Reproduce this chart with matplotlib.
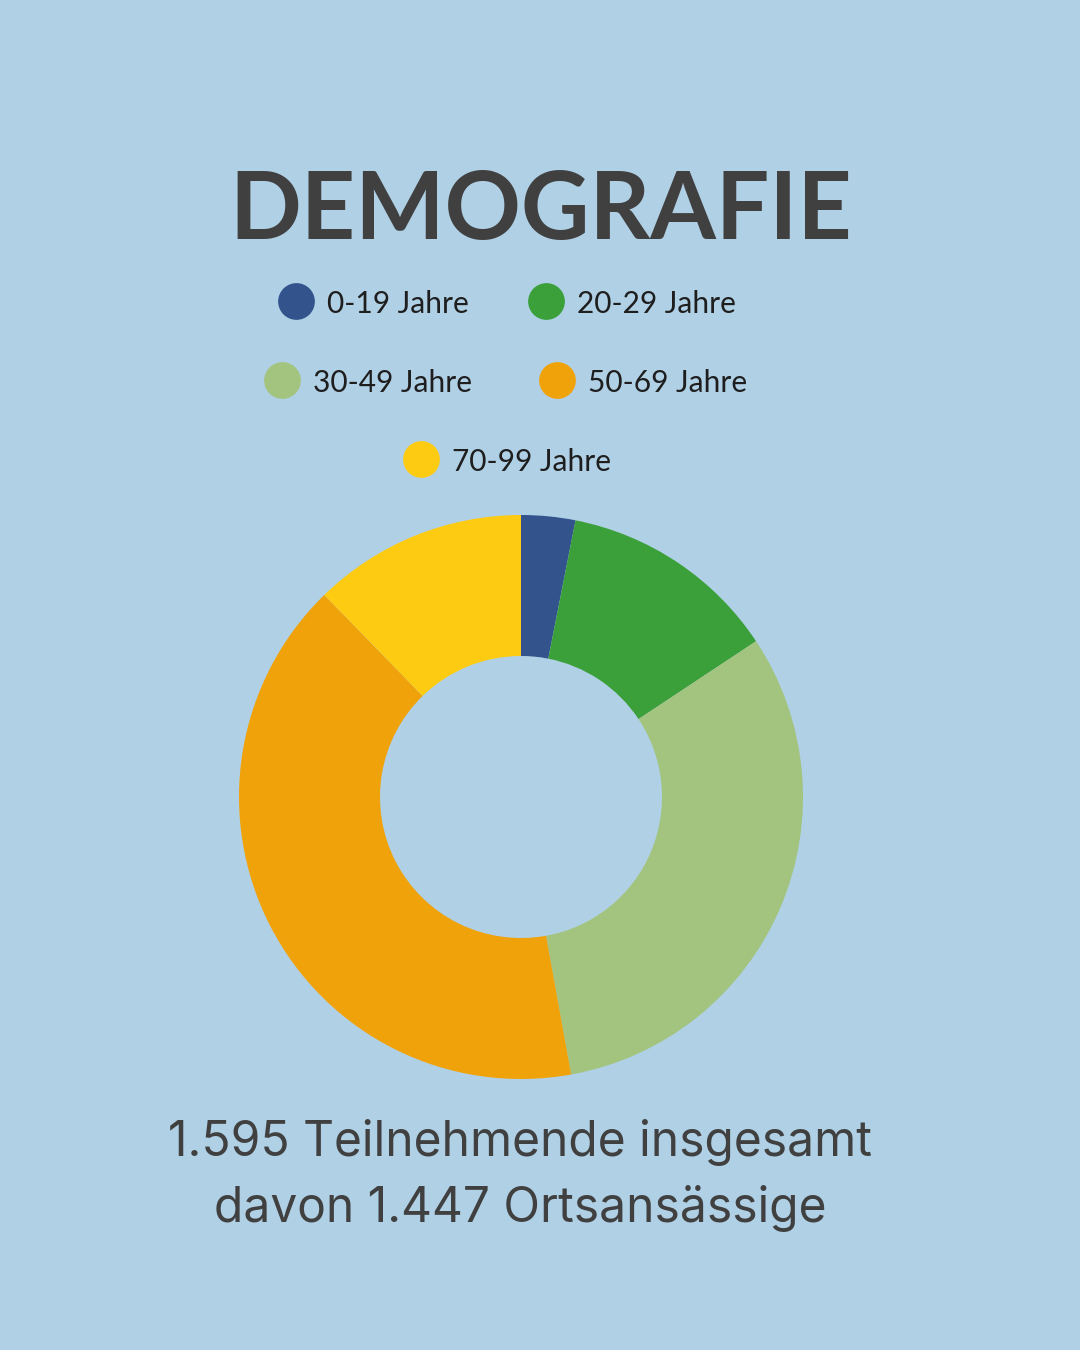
import matplotlib.pyplot as plt

labels = ['0-19 Jahre', '20-29 Jahre', '30-49 Jahre', '50-69 Jahre', '70-99 Jahre']
shares = [3.1, 12.6, 31.5, 40.6, 12.3]
colors = ['#32538c', '#3ba03a', '#a3c47f', '#f0a20a', '#fecb13']
title = 'DEMOGRAFIE'
footer = ['1.595 Teilnehmende insgesamt', 'davon 1.447 Ortsansässige']

bg = '#b0d0e5'
ink = '#404040'
W, H = 1080, 1350

fig = plt.figure(figsize=(10.8, 13.5), dpi=100, facecolor=bg)

# Donut
cx, cy, r = 521, 797, 282
ax = fig.add_axes([(cx - r) / W, (H - cy - r) / H, 2 * r / W, 2 * r / H])
ax.pie(shares, colors=colors, startangle=90, counterclock=False, radius=1,
       wedgeprops=dict(width=0.5, linewidth=0))
ax.set_xlim(-1, 1)
ax.set_ylim(-1, 1)
ax.set_aspect('equal')
ax.axis('off')

# Overlay in pixel coords for title, legend and footer
ov = fig.add_axes([0, 0, 1, 1])
ov.set_xlim(0, W)
ov.set_ylim(H, 0)
ov.axis('off')

ov.text(541, 212, title, ha='center', va='center', fontsize=68,
        fontweight='bold', color=ink, family='Lato')

# legend positions (marker x, y)
leg_pos = [(296, 301), (546, 301), (282, 380), (557, 380), (421, 459)]
for (x, y), lab, col in zip(leg_pos, labels, colors):
    ov.scatter([x], [y], s=700, color=col, linewidths=0)
    ov.text(x + 31, y + 3, lab, ha='left', va='center', fontsize=21.5,
            color='#1e1e1e', family='Lato')

ov.text(520, 1142, footer[0], ha='center', va='center', fontsize=34.5,
        color=ink, family='Inter')
ov.text(520, 1208, footer[1], ha='center', va='center', fontsize=34.5,
        color=ink, family='Inter')

fig.savefig('out.png', dpi=100, facecolor=bg)
